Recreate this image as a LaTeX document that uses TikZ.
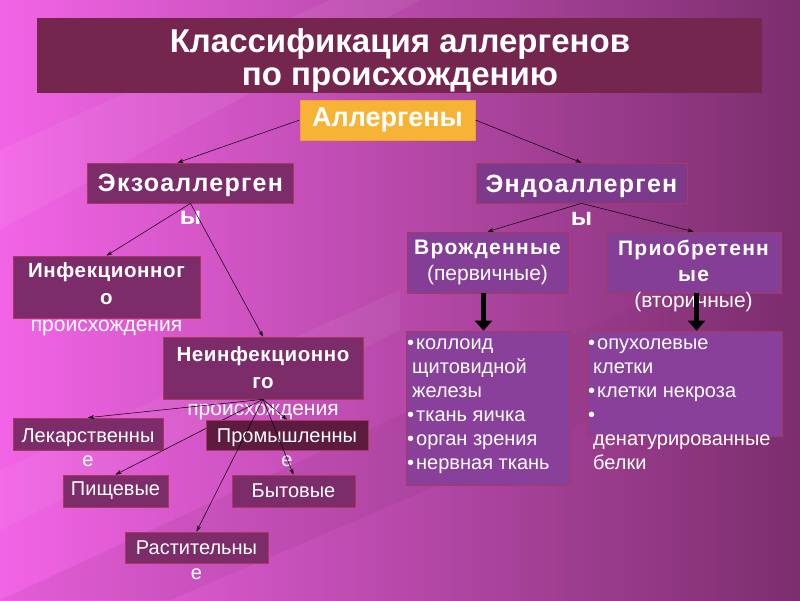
\documentclass[tikz,border=0pt]{standalone}
\usepackage{fontspec}
\setmainfont{Liberation Sans}
\newfontfamily\wideface[LetterSpace=6]{Liberation Sans}
\newfontfamily\midface[LetterSpace=3]{Liberation Sans}
\newfontfamily\widerface[LetterSpace=5]{Liberation Sans}
\usepackage{tikz}
\usetikzlibrary{arrows.meta, positioning}

\definecolor{bgpink}{HTML}{F264E6}
\definecolor{bgplum}{HTML}{7C2E6E}
\definecolor{titlefill}{HTML}{74264F}
\definecolor{allfill}{HTML}{F6B335}
\definecolor{allline}{HTML}{EBA03A}
\definecolor{plumfill}{HTML}{7C2C69}
\definecolor{endofill}{HTML}{7D3A8C}
\definecolor{violetfill}{HTML}{853E95}
\definecolor{listfill}{HTML}{88409A}
\definecolor{darkfill}{HTML}{5D1B40}
\definecolor{boxline}{HTML}{A8385F}

\newcommand{\pxfont}[2]{\fontsize{#1}{#2}\selectfont}
\newcommand{\hb}[1]{{\wideface\bfseries #1}}
\newcommand{\hbs}[1]{{\midface\bfseries\pxfont{20.5}{27}#1}}

\begin{document}
\begin{tikzpicture}[x=1pt, y=-1pt,
    box/.style={rectangle, draw=boxline, line width=0.7pt, inner sep=0pt},
    txt/.style={text=white, align=center, inner sep=0pt},
    head/.style={txt, font=\widerface\bfseries\pxfont{25}{33}},
    plain/.style={txt, font=\pxfont{21}{26}},
    arr/.style={-{Stealth[length=6pt, width=4pt]}, line width=0.5pt, black},
    bigarr/.style={-{Triangle[length=10pt, width=17pt]}, line width=5pt, black}
]
\useasboundingbox (0,0) rectangle (800,600);
\shade[left color=bgpink, right color=bgplum] (0,0) rectangle (800,600);
% faint streaks
\fill[white, opacity=0.06] (0,150) -- (330,0) -- (420,0) -- (0,230) -- cycle;
\fill[bgplum, opacity=0.12] (0,600) -- (800,230) -- (800,330) -- (170,600) -- cycle;
\fill[white, opacity=0.05] (0,470) -- (400,290) -- (400,330) -- (0,530) -- cycle;

% --- title ---
\node[box, draw=none, fill=titlefill, minimum width=725pt, minimum height=75pt] (title) at (399.5,55.5) {};
\node[txt, font=\bfseries\pxfont{33}{33}] (title-t) at (400,60) {Классификация аллергенов\\по происхождению};
\node[box, draw=allline, fill=allfill, minimum width=175pt, minimum height=40pt, txt, font=\bfseries\pxfont{27}{30}] (all) at (387.5,120) {Аллергены};

% --- exo / endo ---
\node[box, fill=plumfill, minimum width=206pt, minimum height=40pt] (exo) at (190.5,183) {};
\node[head] (exo-t) at (190.5,199) {Экзоаллерген\\ы};
\node[box, fill=endofill, minimum width=211pt, minimum height=40pt] (endo) at (581.5,183) {};
\node[head] (endo-t) at (581.5,200) {Эндоаллерген\\ы};

% --- endo branch ---
\node[box, fill=violetfill, minimum width=161pt, minimum height=61pt] (vrozh) at (487.5,262.5) {};
\node[plain] (vrozh-t) at (487.5,262.5) {\hb{Врожденные}\\(первичные)};
\node[box, fill=violetfill, minimum width=175pt, minimum height=61pt] (priob) at (693.5,262.5) {};
\node[plain] (priob-t) at (693.5,276) {\hb{Приобретенн}\\\hb{ые}\\(вторичные)};
\node[box, fill=listfill, minimum width=164pt, minimum height=154pt] (kol) at (488,408) {};
\node[txt, align=left, anchor=north west, font=\pxfont{20}{24}] (kol-t) at (407,339)
  {•\hspace{2pt}коллоид\\\hspace*{5pt}щитовидной\\\hspace*{5pt}железы\\•\hspace{2pt}ткань яичка\\•\hspace{2pt}орган зрения\\•\hspace{2pt}нервная ткань};
\node[box, fill=listfill, minimum width=195pt, minimum height=105pt] (opuh) at (684.5,383.5) {};
\node[txt, align=left, anchor=north west, font=\pxfont{20}{24}] (opuh-t) at (588,339)
  {•\hspace{2pt}опухолевые\\\hspace*{5pt}клетки\\•\hspace{2pt}клетки некроза\\•\\\hspace*{5pt}денатурированные\\\hspace*{5pt}белки};

% --- exo branch ---
\node[box, fill=plumfill, minimum width=187pt, minimum height=62pt] (inf) at (106.5,287) {};
\node[txt, font=\pxfont{21}{27}] (inf-t) at (106.5,299.5) {\hbs{Инфекционног}\\\hbs{о}\\происхождения};
\node[box, fill=plumfill, minimum width=200pt, minimum height=62pt] (neinf) at (263,368) {};
\node[txt, font=\pxfont{21}{27}] (neinf-t) at (263,383) {\hbs{Неинфекционно}\\\hbs{го}\\происхождения};
\node[box, fill=plumfill, minimum width=150pt, minimum height=32pt] (lek) at (88,434) {};
\node[plain, font=\pxfont{20}{24}] (lek-t) at (88,448) {Лекарственны\\е};
\node[box, fill=plumfill, minimum width=105pt, minimum height=32pt, plain, font=\pxfont{20}{24}] (pish) at (115.5,491) {Пищевые};
\draw[arr] (neinf.south) -- (lek.north);
\draw[arr] (neinf.south) -- (pish.north);
\node[box, fill=darkfill, minimum width=162pt, minimum height=30pt] (prom) at (287,435) {};
\node[plain, font=\pxfont{20}{24}] (prom-t) at (287,448) {Промышленны\\е};
\node[box, fill=plumfill, minimum width=123pt, minimum height=32pt, plain, font=\pxfont{20}{24}] (byt) at (293.5,491) {Бытовые};
\node[box, fill=plumfill, minimum width=143pt, minimum height=31pt] (rast) at (196.5,547.5) {};
\node[plain, font=\pxfont{20}{25}] (rast-t) at (196.5,560.5) {Растительны\\е};

% --- connectors ---
\draw[arr] (all.west) -- ([xshift=-13pt]exo.north);
\draw[arr] (all.east) -- (endo.north);
\draw[arr] (exo.south) -- (inf.north);
\draw[arr] (exo.south) -- (neinf.north);
\draw[arr] (endo.south) -- (vrozh.north);
\draw[arr] (endo.south) -- (priob.north);
\draw[arr] (neinf.south) -- (prom.north);
\draw[arr] (neinf.south) -- (byt.north);
\draw[arr] (neinf.south) -- (rast.north);
\draw[bigarr] ([xshift=-4pt]vrozh.south) -- ([xshift=-4pt]vrozh.south |- kol.north);
\draw[bigarr] ([xshift=3pt]priob.south) -- ([xshift=3pt]priob.south |- opuh.north);
\end{tikzpicture}
\end{document}
